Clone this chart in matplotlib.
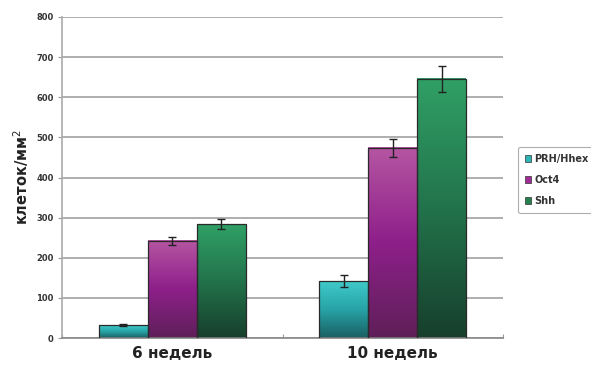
import numpy as np
import matplotlib
matplotlib.use("Agg")
import matplotlib.pyplot as plt
from matplotlib.colors import LinearSegmentedColormap
from matplotlib.patches import Patch

categories = ["6 недель", "10 недель"]
series = ["PRH/Hhex", "Oct4", "Shh"]
values = {
    "PRH/Hhex": [32, 142],
    "Oct4": [242, 474],
    "Shh": [284, 646],
}
errors = {
    "PRH/Hhex": [3, 15],
    "Oct4": [10, 22],
    "Shh": [13, 32],
}
yticks = [0, 100, 200, 300, 400, 500, 600, 700, 800]

grad = {
    "PRH/Hhex": ["#1a5f63", "#27a3a6", "#40caca"],
    "Oct4": ["#5e2058", "#8e1f8a", "#b556a2"],
    "Shh": ["#173f2c", "#22734b", "#30a066"],
}
legend_col = {"PRH/Hhex": "#2fb5b8", "Oct4": "#a02c96", "Shh": "#25804f"}

plt.rcParams['font.family'] = ['DejaVu Sans']
fig = plt.figure(figsize=(5.91, 3.68), dpi=100)
ax = fig.add_axes([62/591, 30/368, (503-62)/591, (338-17)/368])

n = len(series)
bw = 0.222
x = np.arange(len(categories))
for i, s in enumerate(series):
    cmap = LinearSegmentedColormap.from_list(s, grad[s])
    for j, c in enumerate(categories):
        x0 = x[j] - 1.5*bw + i*bw
        h = values[s][j]
        g = np.linspace(0, 1, 256).reshape(-1, 1)
        ax.imshow(g, cmap=cmap, origin='lower', aspect='auto',
                  extent=[x0, x0+bw, 0, h], zorder=2)
        ax.bar(x0 + bw/2, h, width=bw, facecolor='none',
               edgecolor='#2a2a2a', linewidth=0.9, zorder=3)
        ax.errorbar(x0 + bw/2, h, yerr=errors[s][j], fmt='none',
                    ecolor='#222222', elinewidth=1.0, capsize=3, capthick=1.0, zorder=4)

ax.set_xlim(-0.5, 1.5)
ax.set_ylim(0, 800)
ax.set_yticks(yticks)
ax.set_yticklabels([str(t) for t in yticks], fontsize=6, fontweight='bold', color='#333333')
ax.set_xticks([-0.5, 0.5, 1.5])
ax.set_xticklabels([])
ax.set_xticks(x, minor=True)
ax.set_xticklabels(categories, minor=True, fontsize=11, fontweight='bold', color='#222222')
ax.tick_params(axis='x', which='minor', length=0, pad=6)
ax.tick_params(axis='x', which='major', length=3, direction='in', color='#999999')
ax.tick_params(axis='y', length=3, color='#999999', pad=3)
ax.yaxis.grid(True, color='#a8a8a8', linewidth=1.3)
ax.set_axisbelow(True)
for sp in ['top', 'right']:
    ax.spines[sp].set_visible(False)
ax.spines['left'].set_color('#aaaaaa')
ax.spines['bottom'].set_color('#888888')
ax.spines['left'].set_linewidth(1.2)
ax.spines['bottom'].set_linewidth(1.2)

ax.set_ylabel("клеток/мм$^2$", fontsize=10.5, fontweight='bold', color='#222222', labelpad=4)

handles = [Patch(facecolor=legend_col[s], edgecolor='#333333', linewidth=0.5) for s in series]
leg = fig.legend(handles, series, loc='upper left', bbox_to_anchor=(513/591, 1 - 142/368),
                 fontsize=7, frameon=True, handlelength=0.7, handleheight=0.7,
                 handletextpad=0.3, labelspacing=1.15, borderpad=0.7, fancybox=True)
leg.get_frame().set_edgecolor('#999999')
leg.get_frame().set_linewidth(0.8)
for t in leg.get_texts():
    t.set_fontweight('bold')
    t.set_color('#333333')

fig.savefig("out.png", dpi=100)
